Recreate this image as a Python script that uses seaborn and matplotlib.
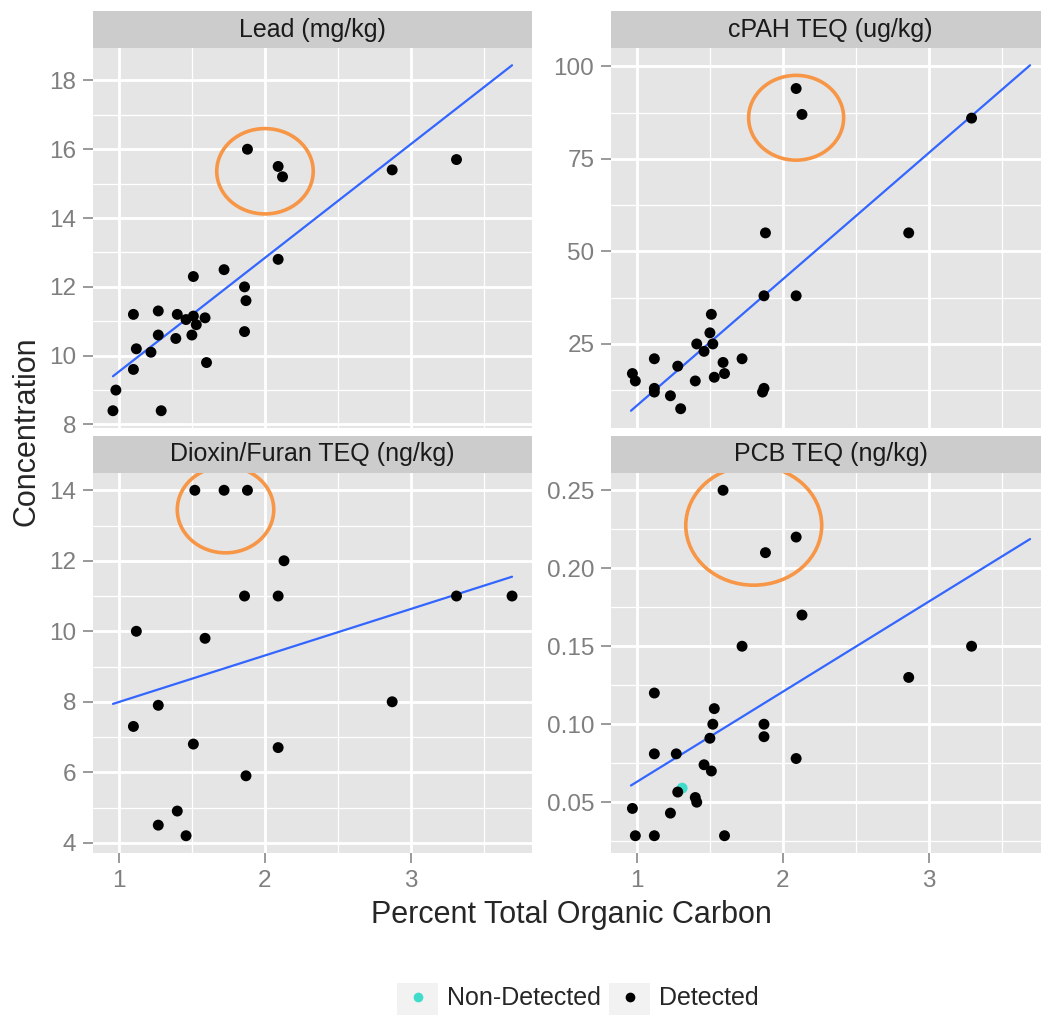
import numpy as np
import pandas as pd
import matplotlib
matplotlib.use("Agg")
import matplotlib.pyplot as plt
import seaborn as sns
from matplotlib.patches import Rectangle, Ellipse
from matplotlib.lines import Line2D
from matplotlib.legend_handler import HandlerBase
from matplotlib.ticker import MultipleLocator, AutoMinorLocator, FormatStrFormatter

# --- datos ---
lead_toc = [1.88, 2.09, 2.12, 2.87, 3.31, 2.09, 1.72, 1.51, 1.86, 1.87,
            1.86, 1.10, 1.27, 1.40, 1.46, 1.51, 1.59, 1.53, 1.27, 1.39,
            1.50, 1.12, 1.22, 1.10, 1.60, 0.98, 0.96, 1.29]
lead_conc = [16.0, 15.5, 15.2, 15.4, 15.7, 12.8, 12.5, 12.3, 12.0, 11.6,
             10.7, 11.2, 11.3, 11.2, 11.05, 11.15, 11.1, 10.9, 10.6, 10.5,
             10.6, 10.2, 10.1, 9.6, 9.8, 9.0, 8.4, 8.4]

cpah_toc = [2.09, 2.13, 3.29, 1.88, 2.86, 1.87, 2.09, 1.51, 1.50, 1.41,
            1.52, 1.46, 1.12, 1.72, 1.28, 1.59, 1.60, 1.53, 0.97, 0.99,
            1.40, 1.12, 1.12, 1.87, 1.86, 1.23, 1.30]
cpah_conc = [94, 87, 86, 55, 55, 38, 38, 33, 28, 25,
             25, 23, 21, 21, 19, 20, 17, 16, 17, 15,
             15, 13, 12, 13, 12, 11, 7.5]

dioxin_toc = [1.52, 1.72, 1.88, 2.13, 1.86, 2.09, 3.31, 3.69, 1.12, 1.59,
              2.87, 1.27, 1.10, 1.51, 2.09, 1.87, 1.40, 1.27, 1.46]
dioxin_conc = [14, 14, 14, 12, 11, 11, 11, 11, 10, 9.8,
               8.0, 7.9, 7.3, 6.8, 6.7, 5.9, 4.9, 4.5, 4.2]

pcb_toc = [1.31, 1.59, 2.09, 1.88, 2.13, 1.72, 3.29, 2.86, 1.12, 1.53,
           1.52, 1.87, 1.87, 1.50, 1.12, 1.27, 2.09, 1.46, 1.51, 1.28,
           1.40, 1.41, 0.97, 1.23, 0.99, 1.12, 1.60]
pcb_conc = [0.059, 0.25, 0.22, 0.21, 0.17, 0.15, 0.15, 0.13, 0.12, 0.11,
            0.10, 0.10, 0.092, 0.091, 0.081, 0.081, 0.078, 0.074, 0.070, 0.0565,
            0.053, 0.050, 0.046, 0.043, 0.0285, 0.0285, 0.0285]
pcb_status = ["Non-Detected"] + ["Detected"] * 26

panel_titles = ["Lead (mg/kg)", "cPAH TEQ (ug/kg)",
                "Dioxin/Furan TEQ (ng/kg)", "PCB TEQ (ng/kg)"]
status_order = ["Non-Detected", "Detected"]

# --- tabla larga ---
partes = []
for titulo, xs, ys in zip(panel_titles[:3],
                          [lead_toc, cpah_toc, dioxin_toc],
                          [lead_conc, cpah_conc, dioxin_conc]):
    partes.append(pd.DataFrame({"panel": titulo, "toc": xs, "conc": ys,
                                "status": "Detected"}))
partes.append(pd.DataFrame({"panel": panel_titles[3], "toc": pcb_toc,
                            "conc": pcb_conc, "status": pcb_status}))
df = pd.concat(partes, ignore_index=True)

# --- estilo ---
colores = {"Non-Detected": "#40DCCB", "Detected": "black"}
naranja = "#F79646"
gris_txt = "#7F7F7F"

sns.set_theme(style="darkgrid", rc={
    "axes.facecolor": "#E5E5E5",
    "grid.color": "white",
    "axes.edgecolor": "none",
})
plt.rcParams["font.family"] = ["Liberation Sans", "DejaVu Sans"]

W, H = 1041, 1015
fig = plt.figure(figsize=(W / 100, H / 100), dpi=100)

# posiciones de paneles en pixeles (izq, arriba, der, abajo)
cajas = [(93, 48, 532, 428), (611, 48, 1050, 428),
         (93, 473, 532, 853), (611, 473, 1050, 853)]
alto_tira = 37

paso_y = [2, 25, 2, 0.05]
formato_y = ["%g", "%g", "%g", "%.2f"]

# circulos de anotacion (centro x, centro y, ancho, alto) en unidades de datos
circulos = [(2.00, 15.36, 0.66, 2.48), (2.09, 86.1, 0.65, 22.9),
            (1.73, 13.45, 0.66, 2.45), (1.80, 0.2275, 0.93, 0.0767)]

x_min, x_max = df["toc"].min(), df["toc"].max()
expan = 0.05 * (x_max - x_min)

for i, titulo in enumerate(panel_titles):
    l, t, r, b = cajas[i]
    ax = fig.add_axes([l / W, 1 - b / H, (r - l) / W, (b - t) / H])
    sub = df[df["panel"] == titulo]

    # linea de ajuste sobre todo el rango x compartido
    ax.set_xlim(x_min, x_max)
    sns.regplot(data=sub, x="toc", y="conc", scatter=False, ci=None,
                truncate=False, color="#3366FF",
                line_kws={"linewidth": 1.6}, ax=ax)
    sns.scatterplot(data=sub, x="toc", y="conc", hue="status",
                    hue_order=status_order, palette=colores, s=62,
                    linewidth=0, legend=False, ax=ax, zorder=3)

    # limites como ggplot: rango de puntos y linea + 5 %
    ys = np.concatenate([sub["conc"].to_numpy(), ax.lines[0].get_ydata()])
    y_lo, y_hi = ys.min(), ys.max()
    pad = 0.05 * (y_hi - y_lo)
    ax.set_xlim(x_min - expan, x_max + expan)
    ax.set_ylim(y_lo - pad, y_hi + pad)

    ax.set_xlabel("")
    ax.set_ylabel("")
    for s in ax.spines.values():
        s.set_visible(False)

    ax.xaxis.set_major_locator(MultipleLocator(1))
    ax.xaxis.set_minor_locator(AutoMinorLocator(2))
    ax.yaxis.set_major_locator(MultipleLocator(paso_y[i]))
    ax.yaxis.set_minor_locator(AutoMinorLocator(2))
    ax.yaxis.set_major_formatter(FormatStrFormatter(formato_y[i]))
    ax.grid(which="major", color="white", linewidth=2.0)
    ax.grid(which="minor", color="white", linewidth=0.9)
    ax.set_axisbelow(True)

    ax.tick_params(which="major", length=7, width=1.1, color=gris_txt,
                   labelcolor=gris_txt, labelsize=17.5, pad=5,
                   left=True, bottom=(i >= 2), labelbottom=(i >= 2))
    ax.tick_params(which="minor", length=0)

    # tira del titulo del panel
    h_rel = alto_tira / (b - t)
    ax.add_patch(Rectangle((0, 1), 1, h_rel, transform=ax.transAxes,
                           facecolor="#CCCCCC", edgecolor="none",
                           clip_on=False, zorder=5))
    ax.text(0.5, 1 + h_rel / 2, titulo, transform=ax.transAxes,
            ha="center", va="center", fontsize=18, color="#1A1A1A", zorder=6)

    cx, cy, ew, eh = circulos[i]
    ax.add_patch(Ellipse((cx, cy), ew, eh, fill=False, edgecolor=naranja,
                         linewidth=2.6, zorder=7))

fig.text(27 / W, 1 - 431 / H, "Concentration", rotation=90,
         ha="center", va="center", fontsize=22)
fig.text(571 / W, 1 - 915 / H, "Percent Total Organic Carbon",
         ha="center", va="center", fontsize=22)


class ClaveGris(HandlerBase):
    def create_artists(self, legend, orig_handle, xdescent, ydescent,
                       width, height, fontsize, trans):
        caja = Rectangle((-xdescent, -ydescent - 0.3 * height), width,
                         height * 1.3, facecolor="#F2F2F2", edgecolor="none",
                         transform=trans)
        punto = Line2D([width / 2 - xdescent], [height / 2 - ydescent],
                       marker="o", linestyle="none", markersize=7,
                       markerfacecolor=orig_handle.get_markerfacecolor(),
                       markeredgewidth=0, transform=trans)
        return [caja, punto]


manejadores = [Line2D([], [], marker="o", linestyle="none",
                      markerfacecolor=colores[k], markeredgewidth=0)
               for k in status_order]
fig.legend(manejadores, status_order, loc="center",
           bbox_to_anchor=(578 / W, 1 - 997 / H), ncol=2, frameon=False,
           fontsize=18, handlelength=1.64, handleheight=1.3,
           handletextpad=0.36, columnspacing=0.32, borderpad=0,
           handler_map={Line2D: ClaveGris()})

fig.savefig("out.png", dpi=100)
